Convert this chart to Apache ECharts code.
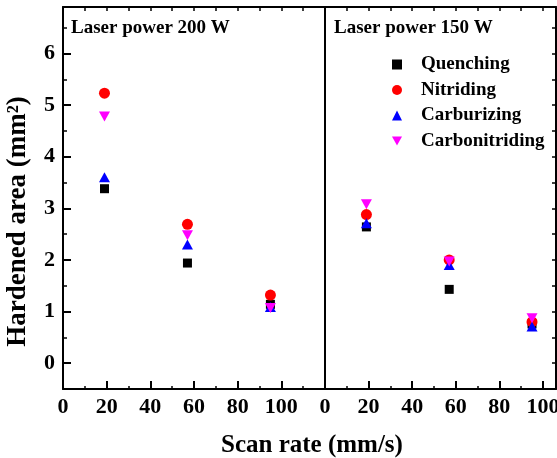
<!DOCTYPE html>
<html>
<head>
<meta charset="utf-8">
<script src="https://cdn.jsdelivr.net/npm/echarts@6/dist/echarts.min.js"></script>
<style>
  html, body { margin: 0; padding: 0; background: #fff; }
  #chart { width: 557px; height: 458px; }
</style>
</head>
<body>
<div id="chart"></div>
<script>
// scan rates (mm/s)
var scanRates = [19, 57, 95];

// hardened area (mm^2), laser power 200 W
var p200Quenching = [3.38, 1.94, 1.14];
var p200Nitriding = [5.23, 2.69, 1.32];
var p200Carburizing = [3.6, 2.3, 1.09];
var p200Carbonitriding = [4.78, 2.48, 1.07];

// hardened area (mm^2), laser power 150 W
var p150Quenching = [2.64, 1.43, 0.76];
var p150Nitriding = [2.88, 2.0, 0.8];
var p150Carburizing = [2.71, 1.9, 0.71];
var p150Carbonitriding = [3.08, 1.97, 0.87];

var yTicks = [0, 1, 2, 3, 4, 5, 6];
var yMinorTicks = [0.5, 1.5, 2.5, 3.5, 4.5, 5.5, 6.5];
var yHalfTicks = [0, 0.5, 1, 1.5, 2, 2.5, 3, 3.5, 4, 4.5, 5, 5.5, 6, 6.5];
var xTicks = [0, 20, 40, 60, 80, 100];
var xMinorTicks = [10, 30, 50, 70, 90];
var xTopTicksLeft = [10, 20, 30, 40, 50, 60, 70, 80, 90, 100, 110];
var xTopTicksRight = [10, 20, 30, 40, 50, 60, 70, 80, 90, 100];

var FONT = "'Liberation Serif', 'Times New Roman', serif";
var downTri = 'path://M0,0 L10,0 L5,9 Z';

function pts(vals) {
  return scanRates.map(function (x, i) { return [x, vals[i]]; });
}

var line2 = { onZero: false, lineStyle: { color: '#000', width: 2 } };
var noLine = { show: false, onZero: false };
var labelStyle = { color: '#000', fontFamily: FONT, fontWeight: 'bold', fontSize: 22 };

var chart = echarts.init(document.getElementById('chart'));

var seriesDefs = [
  { name: 'Quenching', color: '#000000', symbol: 'rect', size: 9, a: p200Quenching, b: p150Quenching },
  { name: 'Nitriding', color: '#ff0000', symbol: 'circle', size: 11, a: p200Nitriding, b: p150Nitriding },
  { name: 'Carburizing', color: '#0000ff', symbol: 'triangle', size: [11, 10], a: p200Carburizing, b: p150Carburizing },
  { name: 'Carbonitriding', color: '#ff00ff', symbol: downTri, size: [11, 10], a: p200Carbonitriding, b: p150Carbonitriding }
];

var series = [];
seriesDefs.forEach(function (d) {
  series.push({
    name: d.name, type: 'scatter', xAxisIndex: 0, yAxisIndex: 0,
    symbol: d.symbol, symbolSize: d.size, itemStyle: { color: d.color, opacity: 1 },
    data: pts(d.a)
  });
  series.push({
    name: d.name, type: 'scatter', xAxisIndex: 1, yAxisIndex: 3,
    symbol: d.symbol, symbolSize: d.size, itemStyle: { color: d.color, opacity: 1 },
    data: pts(d.b)
  });
});

var option = {
  animation: false,
  backgroundColor: '#fff',
  title: [
    { text: 'Laser power 200 W', left: 66, top: 14, textStyle: { color: '#000', fontFamily: FONT, fontWeight: 'bold', fontSize: 19 } },
    { text: 'Laser power 150 W', left: 329, top: 14, textStyle: { color: '#000', fontFamily: FONT, fontWeight: 'bold', fontSize: 19 } },
    { text: 'Scan rate (mm/s)', left: 216, top: 428, textStyle: { color: '#000', fontFamily: FONT, fontWeight: 'bold', fontSize: 25 } }
  ],
  legend: {
    orient: 'vertical', left: 387, top: 50,
    itemWidth: 10, itemHeight: 10, itemGap: 6.5,
    data: ['Quenching', 'Nitriding', 'Carburizing', 'Carbonitriding'],
    textStyle: { color: '#000', fontFamily: FONT, fontWeight: 'bold', fontSize: 19, lineHeight: 19, padding: [0, 0, 0, 14] }
  },
  grid: [
    { left: 63, top: 7, width: 262, height: 382, outerBoundsMode: 'none' },
    { left: 325, top: 7, width: 231, height: 382, outerBoundsMode: 'none' }
  ],
  xAxis: [
    { type: 'value', gridIndex: 0, position: 'bottom', min: 0, max: 120, interval: 20,
      axisLine: line2, splitLine: { show: false },
      axisTick: { inside: true, length: 8, lineStyle: { color: '#000', width: 2 } },
      minorTick: { show: true, splitNumber: 2, length: 3, lineStyle: { color: '#000', width: 1.5 } },
      axisLabel: Object.assign({ margin: 7, formatter: function (v) { return v === 120 ? '' : v; } }, labelStyle) },
    { type: 'value', gridIndex: 1, position: 'bottom', min: 0, max: 106,
      axisLine: line2, splitLine: { show: false },
      axisTick: { inside: true, length: 8, customValues: xTicks, lineStyle: { color: '#000', width: 2 } },
      axisLabel: Object.assign({ margin: 7, customValues: xTicks }, labelStyle) },
    { type: 'value', gridIndex: 1, position: 'bottom', min: 0, max: 106,
      axisLine: noLine, splitLine: { show: false }, axisLabel: { show: false },
      axisTick: { inside: true, length: 3, customValues: xMinorTicks, lineStyle: { color: '#000', width: 1.5 } } },
    { type: 'value', gridIndex: 0, position: 'top', min: 0, max: 120,
      axisLine: line2, splitLine: { show: false }, axisLabel: { show: false },
      axisTick: { inside: true, length: 4, customValues: xTopTicksLeft, lineStyle: { color: '#000', width: 1.5 } } },
    { type: 'value', gridIndex: 1, position: 'top', min: 0, max: 106,
      axisLine: line2, splitLine: { show: false }, axisLabel: { show: false },
      axisTick: { inside: true, length: 4, customValues: xTopTicksRight, lineStyle: { color: '#000', width: 1.5 } } }
  ],
  yAxis: [
    { type: 'value', gridIndex: 0, position: 'left', min: -0.5, max: 6.9,
      axisLine: line2, splitLine: { show: false },
      axisTick: { inside: true, length: 8, customValues: yTicks, lineStyle: { color: '#000', width: 2 } },
      axisLabel: Object.assign({ margin: 8, customValues: yTicks }, labelStyle),
      name: 'Hardened area (mm²)', nameLocation: 'middle', nameGap: 31, nameRotate: 90,
      nameTextStyle: { color: '#000', fontFamily: FONT, fontWeight: 'bold', fontSize: 27, padding: [0, 47, 0, 0] } },
    { type: 'value', gridIndex: 0, position: 'left', min: -0.5, max: 6.9,
      axisLine: noLine, splitLine: { show: false }, axisLabel: { show: false },
      axisTick: { inside: true, length: 4, customValues: yMinorTicks, lineStyle: { color: '#000', width: 1.5 } } },
    { type: 'value', gridIndex: 0, position: 'right', min: -0.5, max: 6.9,
      axisLine: line2, splitLine: { show: false }, axisLabel: { show: false }, axisTick: { show: false } },
    { type: 'value', gridIndex: 1, position: 'right', min: -0.5, max: 6.9,
      axisLine: line2, splitLine: { show: false }, axisLabel: { show: false },
      axisTick: { inside: true, length: 4, customValues: yHalfTicks, lineStyle: { color: '#000', width: 1.5 } } }
  ],
  series: series
};

chart.setOption(option);
</script>
</body>
</html>
